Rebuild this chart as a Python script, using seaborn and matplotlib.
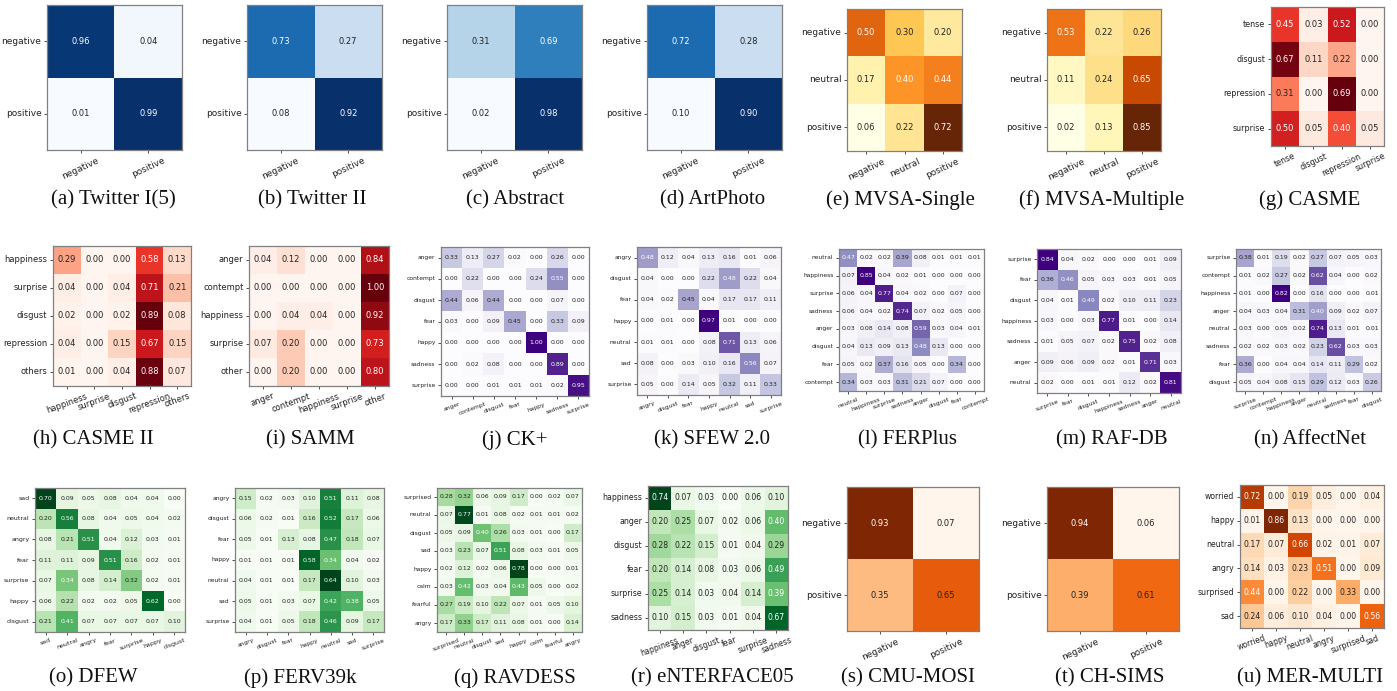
import numpy as np
import pandas as pd
import matplotlib
matplotlib.use("Agg")
import matplotlib.pyplot as plt
import seaborn as sns

# ---------------- data ----------------
pol2 = ["negative", "positive"]
twitter15 = [[0.96, 0.04], [0.01, 0.99]]
twitter2 = [[0.73, 0.27], [0.08, 0.92]]
abstract = [[0.31, 0.69], [0.02, 0.98]]
artphoto = [[0.72, 0.28], [0.10, 0.90]]

pol3 = ["negative", "neutral", "positive"]
mvsa_single = [[0.50, 0.30, 0.20], [0.17, 0.40, 0.44], [0.06, 0.22, 0.72]]
mvsa_multi = [[0.53, 0.22, 0.26], [0.11, 0.24, 0.65], [0.02, 0.13, 0.85]]

casme_labels = ["tense", "disgust", "repression", "surprise"]
casme = [[0.45, 0.03, 0.52, 0.00], [0.67, 0.11, 0.22, 0.00],
         [0.31, 0.00, 0.69, 0.00], [0.50, 0.05, 0.40, 0.05]]

casme2_labels = ["happiness", "surprise", "disgust", "repression", "others"]
casme2 = [[0.29, 0.00, 0.00, 0.58, 0.13], [0.04, 0.00, 0.04, 0.71, 0.21],
          [0.02, 0.00, 0.02, 0.89, 0.08], [0.04, 0.00, 0.15, 0.67, 0.15],
          [0.01, 0.00, 0.04, 0.88, 0.07]]

samm_labels = ["anger", "contempt", "happiness", "surprise", "other"]
samm = [[0.04, 0.12, 0.00, 0.00, 0.84], [0.00, 0.00, 0.00, 0.00, 1.00],
        [0.00, 0.04, 0.04, 0.00, 0.92], [0.07, 0.20, 0.00, 0.00, 0.73],
        [0.00, 0.20, 0.00, 0.00, 0.80]]

ck_labels = ["anger", "contempt", "disgust", "fear", "happy", "sadness", "surprise"]
ck = [[0.33, 0.13, 0.27, 0.02, 0.00, 0.26, 0.00],
      [0.00, 0.22, 0.00, 0.00, 0.24, 0.55, 0.00],
      [0.44, 0.06, 0.44, 0.00, 0.00, 0.07, 0.00],
      [0.03, 0.00, 0.09, 0.45, 0.00, 0.33, 0.09],
      [0.00, 0.00, 0.00, 0.00, 1.00, 0.00, 0.00],
      [0.00, 0.02, 0.08, 0.00, 0.00, 0.89, 0.00],
      [0.00, 0.00, 0.01, 0.01, 0.01, 0.02, 0.95]]

sfew_labels = ["angry", "disgust", "fear", "happy", "neutral", "sad", "surprise"]
sfew = [[0.48, 0.12, 0.04, 0.13, 0.16, 0.01, 0.06],
        [0.04, 0.00, 0.00, 0.22, 0.48, 0.22, 0.04],
        [0.04, 0.02, 0.45, 0.04, 0.17, 0.17, 0.11],
        [0.00, 0.01, 0.00, 0.97, 0.01, 0.00, 0.00],
        [0.01, 0.01, 0.00, 0.08, 0.71, 0.13, 0.06],
        [0.08, 0.00, 0.03, 0.10, 0.16, 0.56, 0.07],
        [0.05, 0.00, 0.14, 0.05, 0.32, 0.11, 0.33]]

ferplus_labels = ["neutral", "happiness", "surprise", "sadness", "anger", "disgust", "fear", "contempt"]
ferplus = [[0.47, 0.02, 0.02, 0.39, 0.08, 0.01, 0.01, 0.01],
           [0.07, 0.85, 0.04, 0.02, 0.01, 0.00, 0.00, 0.00],
           [0.06, 0.04, 0.77, 0.04, 0.02, 0.00, 0.07, 0.00],
           [0.06, 0.04, 0.02, 0.74, 0.07, 0.02, 0.05, 0.00],
           [0.03, 0.08, 0.14, 0.08, 0.59, 0.03, 0.04, 0.01],
           [0.04, 0.13, 0.09, 0.13, 0.48, 0.13, 0.00, 0.00],
           [0.05, 0.02, 0.37, 0.16, 0.05, 0.00, 0.34, 0.00],
           [0.34, 0.03, 0.03, 0.31, 0.21, 0.07, 0.00, 0.00]]

rafdb_labels = ["surprise", "fear", "disgust", "happiness", "sadness", "anger", "neutral"]
rafdb = [[0.84, 0.04, 0.02, 0.00, 0.00, 0.01, 0.09],
         [0.36, 0.46, 0.05, 0.03, 0.03, 0.01, 0.05],
         [0.04, 0.01, 0.49, 0.02, 0.10, 0.11, 0.23],
         [0.03, 0.00, 0.03, 0.77, 0.01, 0.00, 0.14],
         [0.01, 0.05, 0.07, 0.02, 0.75, 0.02, 0.08],
         [0.09, 0.06, 0.09, 0.02, 0.01, 0.71, 0.03],
         [0.02, 0.00, 0.01, 0.01, 0.12, 0.02, 0.81]]

affect_labels = ["surprise", "contempt", "happiness", "anger", "neutral", "sadness", "fear", "disgust"]
affectnet = [[0.38, 0.01, 0.19, 0.02, 0.27, 0.07, 0.05, 0.03],
             [0.01, 0.02, 0.27, 0.02, 0.62, 0.04, 0.00, 0.02],
             [0.01, 0.00, 0.82, 0.00, 0.16, 0.00, 0.00, 0.01],
             [0.04, 0.03, 0.04, 0.31, 0.40, 0.09, 0.02, 0.07],
             [0.03, 0.00, 0.05, 0.02, 0.74, 0.13, 0.01, 0.01],
             [0.02, 0.02, 0.03, 0.02, 0.23, 0.62, 0.03, 0.03],
             [0.36, 0.00, 0.04, 0.04, 0.14, 0.11, 0.29, 0.02],
             [0.05, 0.04, 0.08, 0.15, 0.29, 0.12, 0.03, 0.26]]

dfew_labels = ["sad", "neutral", "angry", "fear", "surprise", "happy", "disgust"]
dfew = [[0.70, 0.09, 0.05, 0.08, 0.04, 0.04, 0.00],
        [0.20, 0.56, 0.08, 0.04, 0.05, 0.04, 0.02],
        [0.08, 0.21, 0.51, 0.04, 0.12, 0.03, 0.01],
        [0.11, 0.11, 0.09, 0.51, 0.16, 0.02, 0.01],
        [0.07, 0.34, 0.08, 0.14, 0.32, 0.02, 0.01],
        [0.06, 0.22, 0.02, 0.02, 0.05, 0.62, 0.00],
        [0.21, 0.41, 0.07, 0.07, 0.07, 0.07, 0.10]]

ferv_labels = ["angry", "disgust", "fear", "happy", "neutral", "sad", "surprise"]
ferv39k = [[0.15, 0.02, 0.03, 0.10, 0.51, 0.11, 0.08],
           [0.06, 0.02, 0.01, 0.16, 0.52, 0.17, 0.06],
           [0.05, 0.01, 0.13, 0.08, 0.47, 0.18, 0.07],
           [0.01, 0.01, 0.01, 0.58, 0.34, 0.04, 0.02],
           [0.04, 0.01, 0.01, 0.17, 0.64, 0.10, 0.03],
           [0.05, 0.01, 0.03, 0.07, 0.42, 0.38, 0.05],
           [0.04, 0.01, 0.05, 0.18, 0.46, 0.09, 0.17]]

ravdess_labels = ["surprised", "neutral", "disgust", "sad", "happy", "calm", "fearful", "angry"]
ravdess = [[0.28, 0.32, 0.06, 0.09, 0.17, 0.00, 0.02, 0.07],
           [0.07, 0.77, 0.01, 0.08, 0.02, 0.01, 0.01, 0.02],
           [0.05, 0.09, 0.40, 0.26, 0.03, 0.01, 0.00, 0.17],
           [0.03, 0.23, 0.07, 0.51, 0.08, 0.03, 0.01, 0.05],
           [0.02, 0.12, 0.02, 0.06, 0.78, 0.00, 0.00, 0.01],
           [0.03, 0.42, 0.03, 0.04, 0.43, 0.05, 0.00, 0.02],
           [0.27, 0.19, 0.10, 0.22, 0.07, 0.01, 0.05, 0.10],
           [0.17, 0.33, 0.17, 0.11, 0.08, 0.01, 0.00, 0.14]]

enterface_labels = ["happiness", "anger", "disgust", "fear", "surprise", "sadness"]
enterface = [[0.74, 0.07, 0.03, 0.00, 0.06, 0.10],
             [0.20, 0.25, 0.07, 0.02, 0.06, 0.40],
             [0.28, 0.22, 0.15, 0.01, 0.04, 0.29],
             [0.20, 0.14, 0.08, 0.03, 0.06, 0.49],
             [0.25, 0.14, 0.03, 0.04, 0.14, 0.39],
             [0.10, 0.15, 0.03, 0.01, 0.04, 0.67]]

cmu_mosi = [[0.93, 0.07], [0.35, 0.65]]
ch_sims = [[0.94, 0.06], [0.39, 0.61]]

mer_labels = ["worried", "happy", "neutral", "angry", "surprised", "sad"]
mer_multi = [[0.72, 0.00, 0.19, 0.05, 0.00, 0.04],
             [0.01, 0.86, 0.13, 0.00, 0.00, 0.00],
             [0.17, 0.07, 0.66, 0.02, 0.01, 0.07],
             [0.14, 0.03, 0.23, 0.51, 0.00, 0.09],
             [0.44, 0.00, 0.22, 0.00, 0.33, 0.00],
             [0.24, 0.06, 0.10, 0.04, 0.00, 0.56]]

captions = ["(a) Twitter I(5)", "(b) Twitter II", "(c) Abstract", "(d) ArtPhoto",
            "(e) MVSA-Single", "(f) MVSA-Multiple", "(g) CASME",
            "(h) CASME II", "(i) SAMM", "(j) CK+", "(k) SFEW 2.0", "(l) FERPlus",
            "(m) RAF-DB", "(n) AffectNet",
            "(o) DFEW", "(p) FERV39k", "(q) RAVDESS", "(r) eNTERFACE05",
            "(s) CMU-MOSI", "(t) CH-SIMS", "(u) MER-MULTI"]

# ---------------- layout / style ----------------
W, H = 1397, 691
fig = plt.figure(figsize=(W / 100, H / 100), dpi=100)
fig.patch.set_facecolor("white")

# (matrix, labels, cmap, rect px (l, t, r, b), tick fs, annot fs, rotation, text threshold, caption centre)
panels = [
    (twitter15, pol2, "Blues", (47, 5, 182, 150), 6.5, 6, 25, None, (113, 200)),
    (twitter2, pol2, "Blues", (247, 5, 382, 150), 6.5, 6, 25, None, (312, 200)),
    (abstract, pol2, "Blues", (447, 5, 582, 150), 6.5, 6, 25, None, (515, 200)),
    (artphoto, pol2, "Blues", (647, 5, 782, 150), 6.5, 6, 25, None, (713, 200)),
    (mvsa_single, pol3, "YlOrBr", (847, 9, 962, 151), 6.5, 6, 25, None, (900, 200)),
    (mvsa_multi, pol3, "YlOrBr", (1047, 9, 1161, 151), 6.5, 6, 25, None, (1102, 200)),
    (casme, casme_labels, "Reds", (1271, 7, 1384, 146), 5.8, 6, 25, None, (1310, 200)),
    (casme2, casme2_labels, "Reds", (53, 246, 191, 386), 6, 6, 20, None, (93, 440)),
    (samm, samm_labels, "Reds", (249, 246, 389, 386), 6, 6, 20, None, (310, 440)),
    (ck, ck_labels, "Purples", (441, 247, 589, 396), 4.3, 4.5, 20, None, (515, 440)),
    (sfew, sfew_labels, "Purples", (637, 247, 781, 395), 4.3, 4.5, 20, None, (712, 440)),
    (ferplus, ferplus_labels, "Purples", (839, 249, 984, 391), 4.3, 4.5, 20, None, (907, 440)),
    (rafdb, rafdb_labels, "Purples", (1037, 249, 1181, 393), 4.3, 4.5, 20, None, (1112, 440)),
    (affectnet, affect_labels, "Purples", (1236, 249, 1381, 391), 4.3, 4.5, 20, None, (1310, 440)),
    (dfew, dfew_labels, "Greens", (35, 488, 185, 632), 4.5, 4.5, 20, None, (93, 678)),
    (ferv39k, ferv_labels, "Greens", (235, 488, 384, 632), 4.3, 4.5, 20, None, (300, 678)),
    (ravdess, ravdess_labels, "Greens", (437, 488, 582, 632), 4.3, 4.5, 20, None, (515, 678)),
    (enterface, enterface_labels, "Greens", (648, 486, 788, 630), 5.6, 5.6, 20, None, (712, 678)),
    (cmu_mosi, pol2, "Oranges", (847, 487, 979, 631), 6.5, 6, 25, 0.7, (908, 678)),
    (ch_sims, pol2, "Oranges", (1047, 487, 1179, 631), 6.5, 6, 25, 0.7, (1110, 678)),
    (mer_multi, mer_labels, "Oranges", (1240, 485, 1384, 628), 5.6, 5.6, 20, None, (1310, 678)),
]

for (mat, labels, cmap, rect, tfs, afs, rot, thr, cap_pos), cap in zip(panels, captions):
    l, t, r, b = rect
    ax = fig.add_axes([l / W, 1 - b / H, (r - l) / W, (b - t) / H])
    df = pd.DataFrame(mat, index=labels, columns=labels)
    sns.heatmap(df, ax=ax, cmap=cmap, cbar=False, annot=True, fmt=".2f",
                annot_kws={"fontsize": afs}, xticklabels=labels, yticklabels=labels)
    arr = np.asarray(mat, dtype=float)
    th = thr if thr is not None else (arr.max() + arr.min()) / 2 - 0.01
    for txt in ax.texts:
        v = float(txt.get_text())
        txt.set_color("white" if v > th else "#222222")
    for sp in ax.spines.values():
        sp.set_visible(True)
        sp.set_color("#808080")
        sp.set_linewidth(0.9)
    ax.tick_params(axis="both", length=2.5, width=0.6, color="#333333", pad=1.5,
                   labelsize=tfs, labelcolor="#222222")
    ax.set_xticklabels(labels, rotation=rot, ha="center", fontsize=tfs)
    ax.set_yticklabels(labels, rotation=0, va="center", fontsize=tfs)
    ax.set_xlabel("")
    ax.set_ylabel("")
    fig.text(cap_pos[0] / W, 1 - cap_pos[1] / H, cap, ha="center", va="center",
             family="Liberation Serif", fontsize=15, color="#111111")

fig.savefig("out.png", dpi=100, facecolor="white")
